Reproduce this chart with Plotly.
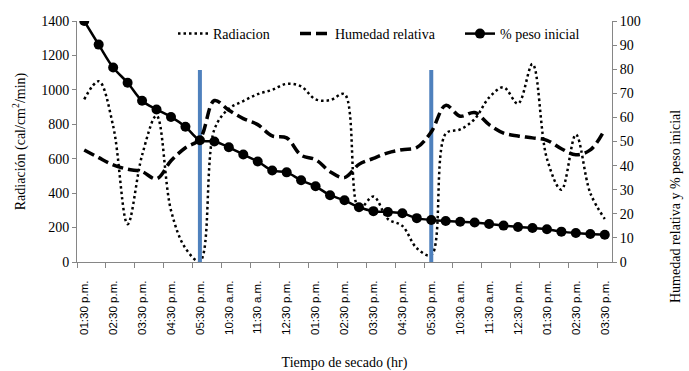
import plotly.graph_objects as go

# ---------------- data ----------------
time_labels = ["01:30 p.m.", "02:30 p.m.", "03:30 p.m.", "04:30 p.m.", "05:30 p.m.",
               "10:30 a.m.", "11:30 a.m.", "12:30 p.m.", "01:30 p.m.", "02:30 p.m.",
               "03:30 p.m.", "04:30 p.m.", "05:30 p.m.", "10:30 a.m.", "11:30 a.m.",
               "12:30 p.m.", "01:30 p.m.", "02:30 p.m.", "03:30 p.m."]

sample_idx = list(range(37))          # half-hour samples; every 2nd one is labelled

radiacion = [945, 1050, 790, 220, 620, 850, 300, 80, 5, 770,
             890, 935, 975, 1000, 1035, 1020, 945, 940, 975, 310,
             380, 250, 210, 80, 40, 745, 770, 830, 955, 1015,
             920, 1150, 600, 420, 740, 400, 250]

humedad = [46.5, 43.3, 40.3, 38.5, 37.5, 34.5, 42.0, 47.4, 51.0, 67.0,
           63.0, 59.5, 57.0, 52.3, 51.5, 44.3, 42.5, 37.5, 35.0, 40.5,
           43.0, 45.3, 46.6, 47.5, 54.0, 65.0, 60.5, 62.0, 57.0, 53.5,
           52.3, 51.5, 50.5, 47.0, 44.5, 46.5, 55.0]

peso = [100, 90.2, 80.7, 74.4, 66.9, 63.3, 60.2, 56.1, 50.5, 50.0,
        47.6, 44.6, 41.7, 38.0, 37.2, 33.9, 31.4, 27.7, 25.6, 22.7,
        21.1, 20.7, 20.2, 18.2, 17.4, 17.0, 16.7, 16.4, 15.8, 15.1,
        14.5, 14.1, 13.6, 12.6, 12.0, 11.6, 11.3]

cambio_idx = [8, 24]       # end-of-day markers (blue bars)
cambio_altura = 1115

# ---------------- style ----------------
SERIF = "Liberation Serif, Times New Roman, serif"
SANS = "Liberation Sans, Arial, sans-serif"
AXIS = "#868686"

fig = go.Figure()

fig.add_trace(go.Scatter(
    x=sample_idx, y=radiacion, name="Radiacion", mode="lines",
    line=dict(color="black", width=2.5, dash="2.5px,3px", shape="spline"),
    legend="legend"))

fig.add_trace(go.Scatter(
    x=sample_idx, y=humedad, name="Humedad relativa", mode="lines", yaxis="y2",
    line=dict(color="black", width=3.5, dash="11px,5px", shape="spline"),
    legend="legend2"))

fig.add_trace(go.Scatter(
    x=sample_idx, y=peso, name="% peso inicial", mode="lines+markers", yaxis="y2",
    line=dict(color="black", width=2.5, shape="spline"),
    marker=dict(symbol="circle", size=10, color="black"),
    legend="legend3"))

bx, by = [], []
for i in cambio_idx:
    bx += [i, i, None]
    by += [0, cambio_altura, None]
fig.add_trace(go.Scatter(
    x=bx, y=by, mode="lines", line=dict(color="#4F81BD", width=4),
    showlegend=False, hoverinfo="skip"))

boundaries = [sample_idx[0] - 0.5 + 2 * k for k in range(len(time_labels))]

L, R, T, B = 77, 77, 21, 109
W, H = 689, 371
pw, ph = W - L - R, H - T - B

def px_x(p):
    return (p - L) / pw

def px_y(p):
    return (H - B - p) / ph

legend_common = dict(orientation="h", bgcolor="rgba(0,0,0,0)",
                     font=dict(family=SERIF, size=14, color="black"),
                     yanchor="middle", xanchor="left", y=px_y(34))

fig.update_layout(
    width=W, height=H,
    margin=dict(l=L, r=R, t=T, b=B, autoexpand=False),
    paper_bgcolor="white", plot_bgcolor="white",
    xaxis=dict(
        range=[sample_idx[0] - 0.5, sample_idx[-1] + 0.5],
        tickmode="array", tickvals=sample_idx[::2], ticktext=time_labels,
        tickangle=-90, ticks="outside", ticklen=5, tickcolor="rgba(0,0,0,0)",
        ticklabelstandoff=8, automargin=False,
        minor=dict(tickmode="array", tickvals=boundaries, ticks="outside",
                   ticklen=5, tickcolor=AXIS, showgrid=False),
        showline=True, linecolor=AXIS, linewidth=1,
        showgrid=False, zeroline=False,
        tickfont=dict(family=SANS, size=11.5, color="black"),
        title=dict(text="Tiempo de secado (hr)",
                   font=dict(family=SERIF, size=14, color="black"), standoff=29),
    ),
    yaxis=dict(
        range=[0, 1400], dtick=200, ticks="outside", ticklen=4, tickcolor=AXIS,
        automargin=False,
        showline=True, linecolor=AXIS, linewidth=1, showgrid=False, zeroline=False,
        tickfont=dict(family=SERIF, size=14, color="black"),
        title=dict(text="Radiación (cal/cm<sup>2</sup>/min)",
                   font=dict(family=SERIF, size=14, color="black"), standoff=12),
    ),
    yaxis2=dict(
        range=[0, 100], dtick=10, overlaying="y", side="right",
        ticks="outside", ticklen=4, tickcolor=AXIS, automargin=False,
        showline=True, linecolor=AXIS, linewidth=1, showgrid=False, zeroline=False,
        tickfont=dict(family=SERIF, size=14, color="black"),
    ),
    legend=dict(x=px_x(173), **legend_common),
    legend2=dict(x=px_x(295), **legend_common),
    legend3=dict(x=px_x(460), **legend_common),
    annotations=[dict(
        text="Humedad relativa y % peso inicial", textangle=-90,
        xref="paper", yref="paper", x=px_x(675), y=px_y(207),
        xanchor="center", yanchor="middle", showarrow=False,
        font=dict(family=SERIF, size=14, color="black"))],
    showlegend=True,
)

fig.write_html("out.html", config={"displayModeBar": False},
               post_script="document.body.style.margin='0';")
